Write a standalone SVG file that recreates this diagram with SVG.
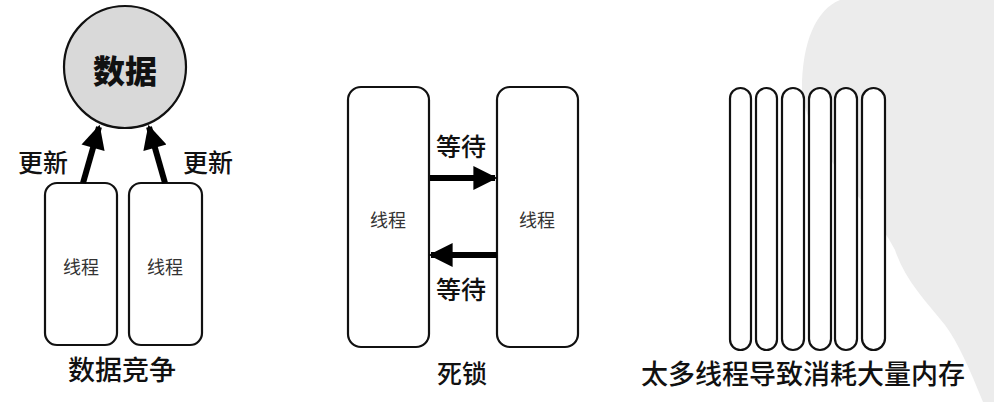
<svg xmlns="http://www.w3.org/2000/svg" width="994" height="402" viewBox="0 0 994 402">
<defs>
<style>
.t{font-family:"Noto Sans CJK SC","Noto Sans",sans-serif;fill:#111;text-anchor:middle;dominant-baseline:central}
.lbl{font-size:25px;font-weight:500}
.cap{font-size:27px;font-weight:500}
.in{font-size:18px;fill:#333}
.box{fill:#fff;stroke:#111;stroke-width:2.2}
.pill{fill:#fff;stroke:#111;stroke-width:2.2}
.arr{stroke:#000;stroke-width:6;fill:none}
</style>
<marker id="ah" viewBox="0 0 10 10" refX="9" refY="5" markerWidth="4.5" markerHeight="4" orient="auto" markerUnits="strokeWidth">
<path d="M0,0 L10,5 L0,10 Z" fill="#000"/>
</marker>
</defs>
<rect width="994" height="402" fill="#fff"/>
<path id="watermark" d="M802 95 C801 45 815 10 840 0 L994 0 L994 402 L983 402 C970 370 958 342 945 325 C925 300 905 280 895 250 C870 200 815 160 802 95 Z" fill="#ececec"/>

<g id="data">
<circle cx="125" cy="67" r="61" fill="#d9d9d9" stroke="#111" stroke-width="2.2"/>
<text class="t" x="125" y="69" style="font-size:32px;font-weight:900">数据</text>
</g>
<g id="thread1"><rect class="box" x="45" y="183" width="72" height="162" rx="12"/><text class="t in" x="81" y="266">线程</text></g>
<g id="thread2"><rect class="box" x="129" y="183" width="73" height="162" rx="12"/><text class="t in" x="165" y="266">线程</text></g>
<g id="label-update-1"><text class="t lbl" x="43" y="161">更新</text></g>
<g id="label-update-2"><text class="t lbl" x="208" y="161">更新</text></g>
<g id="cap1"><text class="t cap" x="122" y="368">数据竞争</text></g>

<g id="threadA"><rect class="box" x="348" y="87" width="81" height="260" rx="13"/><text class="t in" x="388" y="219">线程</text></g>
<g id="threadB"><rect class="box" x="497" y="87" width="81" height="260" rx="13"/><text class="t in" x="537" y="219">线程</text></g>
<g id="label-wait-1"><text class="t lbl" x="461" y="145">等待</text></g>
<g id="label-wait-2"><text class="t lbl" x="461" y="288">等待</text></g>
<g id="cap2"><text class="t cap" x="462" y="372" style="font-size:25px">死锁</text></g>

<g id="pills">
<rect class="pill" x="730" y="88" width="21" height="262" rx="10.5"/>
<rect class="pill" x="756" y="88" width="21" height="262" rx="10.5"/>
<rect class="pill" x="782" y="88" width="22" height="262" rx="11"/>
<rect class="pill" x="809" y="88" width="22" height="262" rx="11"/>
<rect class="pill" x="835" y="88" width="22" height="262" rx="11"/>
<rect class="pill" x="862" y="88" width="23" height="262" rx="11.5"/>
</g>
<g id="cap3"><text class="t cap" x="803" y="372">太多线程导致消耗大量内存</text></g>

<g id="connectors">
<line class="arr" x1="83" y1="183" x2="99" y2="127" marker-end="url(#ah)"/>
<line class="arr" x1="165" y1="183" x2="149" y2="127" marker-end="url(#ah)"/>
<line class="arr" x1="430" y1="178" x2="495" y2="178" marker-end="url(#ah)"/>
<line class="arr" x1="497" y1="255" x2="431" y2="255" marker-end="url(#ah)"/>
</g>
</svg>
